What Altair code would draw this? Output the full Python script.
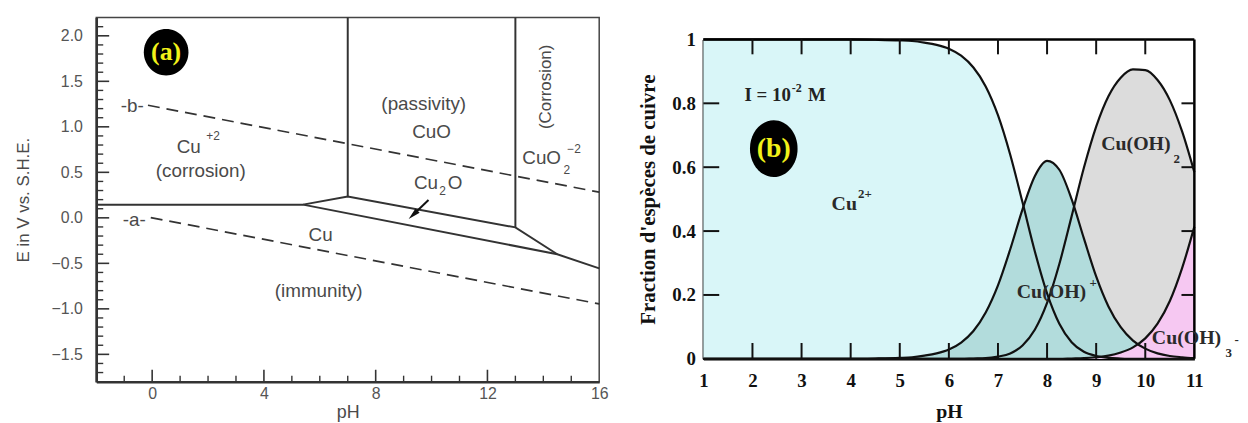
import altair as alt
import pandas as pd

SANS = "Liberation Sans"
SERIF = "Liberation Serif"
GRAY_TEXT = "#4a4a4a"
LINE_DARK = "#333333"

# ================= Panel (a): Pourbaix diagram of copper =================
A_PH_DOMAIN = [-2, 16]
A_E_DOMAIN = [-1.8, 2.2]
A_X_LABELS = [0, 4, 8, 12, 16]
A_Y_LABELS = [-1.5, -1.0, -0.5, 0.0, 0.5, 1.0, 1.5, 2.0]
A_X_MAJOR = [0, 4, 8, 12]
A_X_MINOR = [-1, 1, 2, 3, 5, 6, 7, 9, 10, 11, 13, 14, 15]
A_Y_MAJOR = [-1.5, -1.0, -0.5, 0.0, 0.5, 1.0, 1.5, 2.0]
A_Y_MINOR = [-1.7, -1.6, -1.4, -1.3, -1.2, -1.1, -0.9, -0.8, -0.7, -0.6,
             -0.4, -0.3, -0.2, -0.1, 0.1, 0.2, 0.3, 0.4, 0.6, 0.7, 0.8, 0.9,
             1.1, 1.2, 1.3, 1.4, 1.6, 1.7, 1.8, 1.9, 2.1]

# stability-domain boundaries (solid)
BOUND_NAMES = ["cu2_cu", "cu2o_top", "cu2o_bottom", "cu2_cuo", "cuo_cuo2"]
BOUND_PH = [[-2, 5.4], [5.4, 7, 13, 14.5], [5.4, 14.5, 16], [7, 7], [13, 13]]
BOUND_E = [[0.145, 0.145], [0.145, 0.235, -0.105, -0.40], [0.145, -0.40, -0.555],
           [0.235, 2.2], [-0.105, 2.2]]

# water stability lines (dashed)
WATER_NAMES = ["a", "b"]
WATER_PH = [[-0.05, 16], [-0.15, 16]]
WATER_E = [[0.003, -0.946], [1.237, 0.282]]

# arrow pointing to the Cu2O band
ARROW_PH = [9.89, 9.34]
ARROW_E = [0.196, 0.034]
ARROW_HEAD_PH = [9.34]
ARROW_HEAD_E = [0.034]

A_TEXT = ["Cu", "(corrosion)", "(passivity)", "CuO", "CuO", "Cu", "O", "Cu",
          "(immunity)", "-b-", "-a-"]
A_TEXT_PH = [1.31, 1.74, 9.72, 10.0, 13.94, 9.80, 10.84, 6.03, 5.96, -0.71, -0.64]
A_TEXT_E = [0.774, 0.512, 1.253, 0.948, 0.654, 0.381, 0.381, -0.185, -0.807, 1.23, -0.02]
A_SCRIPT = ["+2", "2", "\u22122", "2"]
A_SCRIPT_PH = [2.18, 14.84, 15.1, 10.39]
A_SCRIPT_E = [0.894, 0.523, 0.752, 0.294]
A_VTEXT = ["(Corrosion)"]
A_VTEXT_PH = [14.08]
A_VTEXT_E = [1.439]
A_BADGE = ["(a)"]
A_BADGE_PH = [0.5]
A_BADGE_E = [1.82]

# ================= Panel (b): species distribution =================
B_PH_DOMAIN = [1, 11]
B_F_DOMAIN = [0, 1]
B_X_LABELS = [1, 2, 3, 4, 5, 6, 7, 8, 9, 10, 11]
B_Y_LABELS = [0, 0.2, 0.4, 0.6, 0.8, 1]
B_X_INNER = [2, 3, 4, 5, 6, 7, 8, 9, 10]
B_Y_INNER = [0.2, 0.4, 0.6, 0.8]

B_PH = [1, 2, 3, 4, 4.5, 5, 5.25, 5.5, 5.75, 6, 6.25, 6.5, 6.75, 7, 7.25, 7.5,
        7.75, 8, 8.25, 8.5, 8.75, 9, 9.25, 9.5, 9.75, 10, 10.25, 10.5, 10.75, 11]
B_CU2 = [1.0, 1.0, 1.0, 1.0, 0.999, 0.997, 0.995, 0.990, 0.983, 0.971,
         0.949, 0.912, 0.853, 0.763, 0.639, 0.490, 0.337, 0.205, 0.110, 0.052,
         0.022, 0.009, 0.003, 0.001, 0.0, 0.0, 0.0, 0.0, 0.0, 0.0]
B_CUOH = [0.0, 0.0, 0.0, 0.0, 0.001, 0.003, 0.005, 0.010, 0.017, 0.029,
          0.051, 0.087, 0.145, 0.230, 0.343, 0.468, 0.572, 0.620, 0.592, 0.500,
          0.377, 0.258, 0.164, 0.099, 0.057, 0.032, 0.017, 0.009, 0.005, 0.002]
B_CUOH2 = [0.0, 0.0, 0.0, 0.0, 0.0, 0.0, 0.0, 0.0, 0.0, 0.0,
           0.0, 0.001, 0.002, 0.007, 0.017, 0.042, 0.091, 0.175, 0.297, 0.446,
           0.598, 0.727, 0.822, 0.880, 0.906, 0.904, 0.873, 0.810, 0.712, 0.584]
B_CUOH3 = [0.0, 0.0, 0.0, 0.0, 0.0, 0.0, 0.0, 0.0, 0.0, 0.0,
           0.0, 0.0, 0.0, 0.0, 0.0, 0.0, 0.0, 0.0, 0.0, 0.001,
           0.002, 0.005, 0.010, 0.020, 0.036, 0.064, 0.110, 0.181, 0.284, 0.414]

B_SPECIES = ["Cu2+", "Cu(OH)2", "Cu(OH)+", "Cu(OH)3-"]
B_VALUES = [B_CU2, B_CUOH2, B_CUOH, B_CUOH3]
B_FILLS = ["#d9f6f8", "#dcdcdc", "#b2dcdc", "#f6c8f2"]

B_IONIC = ["I = 10", "M"]
B_IONIC_PH = [2.31, 3.31]
B_IONIC_F = [0.826, 0.826]
B_IONIC_SUP = ["-2"]
B_IONIC_SUP_PH = [2.90]
B_IONIC_SUP_F = [0.848]
B_TEXT = ["Cu", "Cu(OH)", "Cu(OH)", "Cu(OH)"]
B_TEXT_PH = [3.87, 9.81, 8.09, 10.84]
B_TEXT_F = [0.484, 0.671, 0.208, 0.065]
B_SCRIPT = ["2+", "2", "+", "3", "-"]
B_SCRIPT_PH = [4.29, 10.64, 8.94, 11.70, 11.86]
B_SCRIPT_F = [0.516, 0.627, 0.236, 0.019, 0.059]
B_BADGE = ["(b)"]
B_BADGE_PH = [2.434]
B_BADGE_F = [0.658]


def ellipse_path(h):
    k = 0.5523
    a = k * h
    return (f"M -1 0 C -1 {-a:.4f} {-k} {-h:.4f} 0 {-h:.4f} "
            f"C {k} {-h:.4f} 1 {-a:.4f} 1 0 "
            f"C 1 {a:.4f} {k} {h:.4f} 0 {h:.4f} "
            f"C {-k} {h:.4f} -1 {a:.4f} -1 0 Z")


ARROW_SHAPE = "M 0 -1 L 0.5 1 L -0.5 1 Z"

# ---------------- build panel (a) ----------------
WA, HA = 507, 367

ax_xa = alt.Axis(values=A_X_LABELS, format="d", title="pH", ticks=False, grid=False,
                 labelFlush=False, labelOverlap=False, labelPadding=4, titlePadding=2,
                 domainColor=LINE_DARK, domainWidth=2.5,
                 labelFont=SANS, labelFontSize=16, labelColor="#555555",
                 titleFont=SANS, titleFontSize=18, titleColor=GRAY_TEXT,
                 titleFontWeight="normal")
ax_ya = alt.Axis(values=A_Y_LABELS, format=".1f", title="E in V vs. S.H.E.", ticks=False,
                 grid=False, labelOverlap=False, labelPadding=14, titlePadding=19,
                 domainColor=LINE_DARK, domainWidth=2.5,
                 labelFont=SANS, labelFontSize=16, labelColor="#555555",
                 titleFont=SANS, titleFontSize=17, titleColor=GRAY_TEXT,
                 titleFontWeight="normal")
XA = alt.X("pH:Q", scale=alt.Scale(domain=A_PH_DOMAIN, nice=False, zero=False), axis=ax_xa)
YA = alt.Y("E:Q", scale=alt.Scale(domain=A_E_DOMAIN, nice=False, zero=False), axis=ax_ya)


def seg_df(names, phs, es):
    rows = []
    for n, p, e in zip(names, phs, es):
        for i, (pv, ev) in enumerate(zip(p, e)):
            rows.append({"seg": n, "ord": i, "pH": pv, "E": ev})
    return pd.DataFrame(rows)


bounds = alt.Chart(seg_df(BOUND_NAMES, BOUND_PH, BOUND_E)).mark_line(
    color=LINE_DARK, strokeWidth=2).encode(x=XA, y=YA, detail="seg:N", order="ord:Q")
water = alt.Chart(seg_df(WATER_NAMES, WATER_PH, WATER_E)).mark_line(
    color=LINE_DARK, strokeWidth=1.7, strokeDash=[12, 7]).encode(
    x=XA, y=YA, detail="seg:N", order="ord:Q")
arrow = alt.Chart(pd.DataFrame({"pH": ARROW_PH, "E": ARROW_E})).mark_line(
    color="#111111", strokeWidth=2).encode(x=XA, y=YA)
arrow_head = alt.Chart(pd.DataFrame({"pH": ARROW_HEAD_PH, "E": ARROW_HEAD_E})).mark_point(
    shape=ARROW_SHAPE, filled=True, color="#111111", opacity=1, size=150, angle=227).encode(
    x=XA, y=YA)

ya_major = alt.Chart(pd.DataFrame({"E": A_Y_MAJOR})).mark_rule(
    color=LINE_DARK, strokeWidth=1.6).encode(y=YA, x=alt.value(0), x2=alt.value(13))
ya_minor = alt.Chart(pd.DataFrame({"E": A_Y_MINOR})).mark_rule(
    color=LINE_DARK, strokeWidth=1.4).encode(y=YA, x=alt.value(0), x2=alt.value(7))
xa_major = alt.Chart(pd.DataFrame({"pH": A_X_MAJOR})).mark_rule(
    color=LINE_DARK, strokeWidth=1.6).encode(x=XA, y=alt.value(HA), y2=alt.value(HA - 12))
xa_minor = alt.Chart(pd.DataFrame({"pH": A_X_MINOR})).mark_rule(
    color=LINE_DARK, strokeWidth=1.4).encode(x=XA, y=alt.value(HA), y2=alt.value(HA - 6))

a_text = alt.Chart(pd.DataFrame({"t": A_TEXT, "pH": A_TEXT_PH, "E": A_TEXT_E})).mark_text(
    font=SANS, fontSize=19, color=GRAY_TEXT, align="center", baseline="middle").encode(
    x=XA, y=YA, text="t:N")
a_script = alt.Chart(pd.DataFrame({"t": A_SCRIPT, "pH": A_SCRIPT_PH, "E": A_SCRIPT_E})).mark_text(
    font=SANS, fontSize=12, color=GRAY_TEXT, align="center", baseline="middle").encode(
    x=XA, y=YA, text="t:N")
a_vtext = alt.Chart(pd.DataFrame({"t": A_VTEXT, "pH": A_VTEXT_PH, "E": A_VTEXT_E})).mark_text(
    font=SANS, fontSize=17, color=GRAY_TEXT, align="center", baseline="middle", angle=270).encode(
    x=XA, y=YA, text="t:N")
a_badge_bg = alt.Chart(pd.DataFrame({"pH": A_BADGE_PH, "E": A_BADGE_E})).mark_point(
    shape=ellipse_path(1.04), filled=True, color="#000000", opacity=1, size=2025).encode(
    x=XA, y=YA)
a_badge_txt = alt.Chart(pd.DataFrame({"t": A_BADGE, "pH": A_BADGE_PH, "E": A_BADGE_E})).mark_text(
    font=SERIF, fontSize=26, fontWeight="bold", color="#f2f21a", align="center",
    baseline="middle").encode(x=XA, y=YA, text="t:N")

panel_a = alt.layer(
    bounds, water, arrow, arrow_head, ya_major, ya_minor, xa_major, xa_minor,
    a_text, a_script, a_vtext, a_badge_bg, a_badge_txt,
).properties(width=WA, height=HA,
             view=alt.ViewBackground(stroke="#444444", strokeWidth=1.5))

# ---------------- build panel (b) ----------------
# panel (b) plot starts 22 px lower than panel (a): the group is taller and the
# y range starts at that offset
B_TOP = 22
WB, HB = 495, 344

ax_xb = alt.Axis(values=B_X_LABELS, format="d", title="pH", ticks=False, grid=False,
                 labelFlush=False, labelOverlap=False, labelPadding=13, titlePadding=11,
                 domainColor="#000000", domainWidth=2.5,
                 labelFont=SERIF, labelFontSize=19, labelFontWeight="bold", labelColor="#111111",
                 titleFont=SERIF, titleFontSize=20, titleFontWeight="bold", titleColor="#111111")
ax_yb = alt.Axis(values=B_Y_LABELS, format="~g", title="Fraction d'espèces de cuivre",
                 ticks=False, grid=False, labelOverlap=False, labelPadding=8, titlePadding=14,
                 titleY=183,
                 domainColor="#000000", domainWidth=2.5,
                 labelFont=SERIF, labelFontSize=19, labelFontWeight="bold", labelColor="#111111",
                 titleFont=SERIF, titleFontSize=21, titleFontWeight="bold", titleColor="#111111")
XB = alt.X("pH:Q", scale=alt.Scale(domain=B_PH_DOMAIN, nice=False, zero=False), axis=ax_xb)
YB = alt.Y("frac:Q", scale=alt.Scale(domain=B_F_DOMAIN, nice=False, range=[HB, B_TOP]),
           axis=ax_yb, stack=None)

b_layers = []
for name, vals, fill in zip(B_SPECIES, B_VALUES, B_FILLS):
    df = pd.DataFrame({"pH": B_PH, "frac": vals})
    b_layers.append(alt.Chart(df).mark_area(color=fill, opacity=1, interpolate="monotone")
                    .encode(x=XB, y=YB))

long_rows = []
for name, vals in zip(B_SPECIES, B_VALUES):
    for p, v in zip(B_PH, vals):
        long_rows.append({"sp": name, "pH": p, "frac": v})
b_lines = alt.Chart(pd.DataFrame(long_rows)).mark_line(
    color="#111111", strokeWidth=2.2, interpolate="monotone").encode(
    x=XB, y=YB, detail="sp:N")

# frame: top and right edges of the plot
frame_top = alt.Chart(pd.DataFrame({"pH": [B_PH_DOMAIN[0]], "pH2": [B_PH_DOMAIN[1]],
                                    "frac": [B_F_DOMAIN[1]]})).mark_rule(
    color="#000000", strokeWidth=2.5).encode(x=XB, x2="pH2:Q", y=YB)
frame_right = alt.Chart(pd.DataFrame({"pH": [B_PH_DOMAIN[1]], "frac": [B_F_DOMAIN[0]],
                                      "frac2": [B_F_DOMAIN[1]]})).mark_rule(
    color="#000000", strokeWidth=2.5).encode(x=XB, y=YB, y2="frac2:Q")

xb_bottom = alt.Chart(pd.DataFrame({"pH": B_X_INNER})).mark_rule(
    color="#111111", strokeWidth=2).encode(x=XB, y=alt.value(HB), y2=alt.value(HB - 16))
xb_top = alt.Chart(pd.DataFrame({"pH": B_X_INNER})).mark_rule(
    color="#111111", strokeWidth=2).encode(x=XB, y=alt.value(B_TOP), y2=alt.value(B_TOP + 15))
yb_left = alt.Chart(pd.DataFrame({"frac": B_Y_INNER})).mark_rule(
    color="#111111", strokeWidth=2).encode(y=YB, x=alt.value(0), x2=alt.value(16))
yb_right = alt.Chart(pd.DataFrame({"frac": B_Y_INNER})).mark_rule(
    color="#111111", strokeWidth=2).encode(y=YB, x=alt.value(WB), x2=alt.value(WB - 13))

b_ionic = alt.Chart(pd.DataFrame({"t": B_IONIC, "pH": B_IONIC_PH, "frac": B_IONIC_F})).mark_text(
    font=SERIF, fontSize=19, fontWeight="bold", color="#222222", align="center",
    baseline="middle").encode(x=XB, y=YB, text="t:N")
b_ionic_sup = alt.Chart(pd.DataFrame({"t": B_IONIC_SUP, "pH": B_IONIC_SUP_PH,
                                      "frac": B_IONIC_SUP_F})).mark_text(
    font=SERIF, fontSize=12, fontWeight="bold", color="#222222", align="center",
    baseline="middle").encode(x=XB, y=YB, text="t:N")
b_text = alt.Chart(pd.DataFrame({"t": B_TEXT, "pH": B_TEXT_PH, "frac": B_TEXT_F})).mark_text(
    font=SERIF, fontSize=20, fontWeight="bold", color="#2a2a2a", align="center",
    baseline="middle").encode(x=XB, y=YB, text="t:N")
b_script = alt.Chart(pd.DataFrame({"t": B_SCRIPT, "pH": B_SCRIPT_PH, "frac": B_SCRIPT_F})).mark_text(
    font=SERIF, fontSize=13, fontWeight="bold", color="#2a2a2a", align="center",
    baseline="middle").encode(x=XB, y=YB, text="t:N")
b_badge_bg = alt.Chart(pd.DataFrame({"pH": B_BADGE_PH, "frac": B_BADGE_F})).mark_point(
    shape=ellipse_path(1.19), filled=True, color="#000000", opacity=1, size=2304).encode(
    x=XB, y=YB)
b_badge_txt = alt.Chart(pd.DataFrame({"t": B_BADGE, "pH": B_BADGE_PH, "frac": B_BADGE_F})).mark_text(
    font=SERIF, fontSize=28, fontWeight="bold", color="#f2f21a", align="center",
    baseline="middle").encode(x=XB, y=YB, text="t:N")

panel_b = alt.layer(
    *b_layers, b_lines, frame_top, frame_right, xb_bottom, xb_top, yb_left, yb_right,
    b_ionic, b_ionic_sup, b_text, b_script, b_badge_bg, b_badge_txt,
).properties(width=WB, height=HB,
             view=alt.ViewBackground(stroke="transparent"))

chart = alt.hconcat(panel_a, panel_b, spacing=27).properties(
    padding={"left": 5, "top": 3, "right": 0, "bottom": 0},
    background="white",
)

chart.save("out.html", embed_options={"renderer": "svg", "actions": False})
